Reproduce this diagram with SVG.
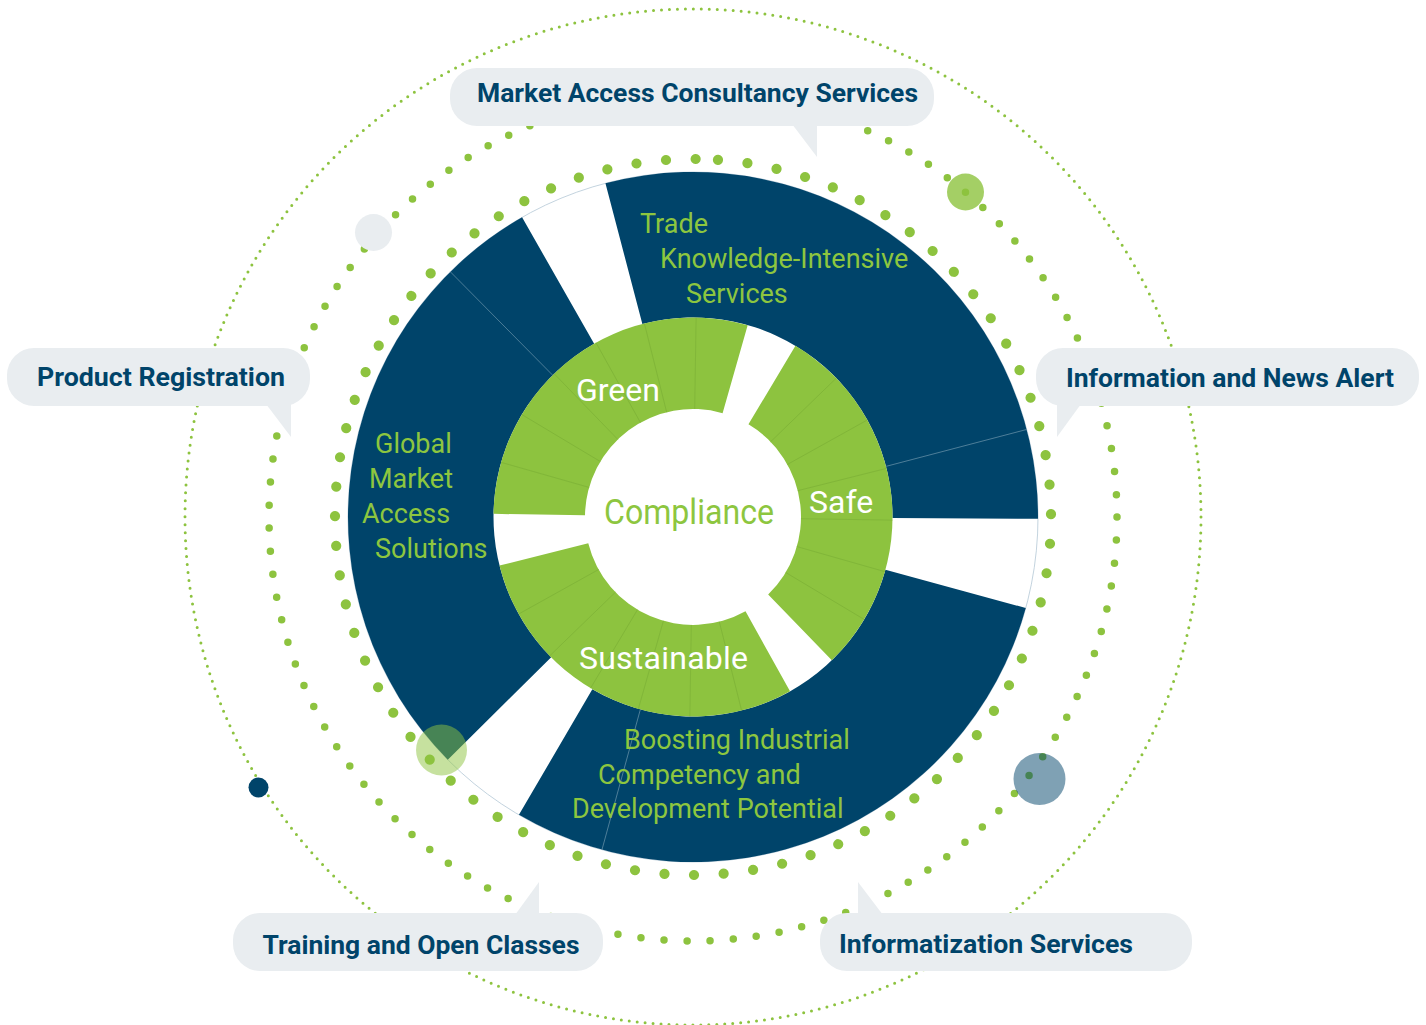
<svg xmlns="http://www.w3.org/2000/svg" xmlns:xlink="http://www.w3.org/1999/xlink" width="1426" height="1025" viewBox="0 0 1426 1025">
<defs>
<style>
.ring-fine{fill:none;stroke:#8dc33f;stroke-width:3;stroke-linecap:round;stroke-dasharray:0 7.98}
.ring-mid{fill:none;stroke:#8dc33f;stroke-width:7.5;stroke-linecap:round;stroke-dasharray:0 23.166}
.ring-big{fill:none;stroke:#8dc33f;stroke-width:10.2;stroke-linecap:round;stroke-dasharray:0 29.68}
.dark{fill:#00446a}
.green{fill:#8dc33f}
.dline{stroke:#6f97ad;stroke-width:0.8;opacity:0.8}
.gline{stroke:#7aae35;stroke-width:0.8;opacity:0.7}
.lbl{font-family:Roboto,"Liberation Sans",sans-serif;font-size:27px;fill:#8dc63f}
.wlbl{font-family:Roboto,"Liberation Sans",sans-serif;font-size:32px;fill:#ffffff}
.bubble{fill:#e9edf0}
.btxt{font-family:Roboto,"Liberation Sans",sans-serif;font-weight:bold;font-size:26px;fill:#00446a}
</style>
<line id="gl" x1="801" y1="517" x2="892.5" y2="517"/>
<line id="dl" x1="892.5" y1="517" x2="1038" y2="517"/>
</defs>
<rect width="1426" height="1025" fill="#ffffff"/>

<g id="rings">
<circle class="ring-fine" cx="693" cy="517" r="508"/>
<circle class="ring-mid" cx="693" cy="517" r="424"/>
<circle class="ring-big" cx="693" cy="517" r="358" transform="rotate(-86 693 517)"/>
<circle cx="693" cy="517" r="345" fill="none" stroke="#b4c8d5" stroke-width="0.8"/>
</g>

<g id="seg-trade">
<path class="dark" d="M605.44 183.28 A345 345 0 0 1 1037.99 518.81 L892.5 518.04 A199.5 199.5 0 0 0 642.37 324.02 Z"/>
<use xlink:href="#dl" class="dline" transform="rotate(-14.7 693 517)"/>
<text class="lbl" x="640" y="233">Trade</text>
<text class="lbl" x="660" y="268">Knowledge-Intensive</text>
<text class="lbl" x="686" y="302.5">Services</text>
</g>
<g id="seg-boosting">
<path class="dark" d="M1025.77 608.04 A345 345 0 0 1 518.94 814.87 L592.35 689.25 A199.5 199.5 0 0 0 885.43 569.64 Z"/>
<use xlink:href="#dl" class="dline" transform="rotate(105.3 693 517)"/>
</g>
<g id="seg-global">
<path class="dark" d="M447.77 759.67 A345 345 0 0 1 522.07 217.32 L594.16 343.71 A199.5 199.5 0 0 0 551.20 657.33 Z"/>
<use xlink:href="#dl" class="dline" transform="rotate(225.3 693 517)"/>
<text class="lbl" x="375" y="453">Global</text>
<text class="lbl" x="369" y="488">Market</text>
<text class="lbl" x="362" y="522.5">Access</text>
<text class="lbl" x="375" y="557.5">Solutions</text>
</g>

<g id="seg-green">
<path class="green" d="M493.52 513.87 A199.5 199.5 0 0 1 747.66 325.13 L722.59 413.13 A108 108 0 0 0 585.01 515.30 Z"/>
<use xlink:href="#gl" class="gline" transform="rotate(195.9 693 517)"/>
<use xlink:href="#gl" class="gline" transform="rotate(210.9 693 517)"/>
<use xlink:href="#gl" class="gline" transform="rotate(225.9 693 517)"/>
<use xlink:href="#gl" class="gline" transform="rotate(240.9 693 517)"/>
<use xlink:href="#gl" class="gline" transform="rotate(255.9 693 517)"/>
<use xlink:href="#gl" class="gline" transform="rotate(270.9 693 517)"/>
<text class="wlbl" x="576" y="401">Green</text>
</g>
<g id="seg-safe">
<path class="green" d="M795.45 345.81 A199.5 199.5 0 0 1 831.83 660.27 L768.16 594.56 A108 108 0 0 0 748.46 424.32 Z"/>
<use xlink:href="#gl" class="gline" transform="rotate(-44.1 693 517)"/>
<use xlink:href="#gl" class="gline" transform="rotate(-29.1 693 517)"/>
<use xlink:href="#gl" class="gline" transform="rotate(-14.1 693 517)"/>
<use xlink:href="#gl" class="gline" transform="rotate(0.9 693 517)"/>
<use xlink:href="#gl" class="gline" transform="rotate(15.9 693 517)"/>
<use xlink:href="#gl" class="gline" transform="rotate(30.9 693 517)"/>
<text class="wlbl" x="809" y="513">Safe</text>
</g>
<g id="seg-sustainable">
<path class="green" d="M790.02 691.32 A199.5 199.5 0 0 1 499.51 565.60 L588.25 543.31 A108 108 0 0 0 745.52 611.37 Z"/>
<use xlink:href="#gl" class="gline" transform="rotate(75.9 693 517)"/>
<use xlink:href="#gl" class="gline" transform="rotate(90.9 693 517)"/>
<use xlink:href="#gl" class="gline" transform="rotate(105.9 693 517)"/>
<use xlink:href="#gl" class="gline" transform="rotate(120.9 693 517)"/>
<use xlink:href="#gl" class="gline" transform="rotate(135.9 693 517)"/>
<use xlink:href="#gl" class="gline" transform="rotate(150.9 693 517)"/>
<text class="wlbl" x="579" y="669" textLength="169">Sustainable</text>
</g>
<g id="boosting-label">
<text class="lbl" x="624" y="749">Boosting Industrial</text>
<text class="lbl" x="598" y="783.5">Competency and</text>
<text class="lbl" x="572" y="817.5">Development Potential</text>
</g>

<g id="center">
<text x="604" y="524" font-family="Roboto,'Liberation Sans',sans-serif" font-size="35" fill="#8dc63f" textLength="170" lengthAdjust="spacingAndGlyphs">Compliance</text>
</g>

<g id="decor">
<circle cx="373.5" cy="232.5" r="18.5" fill="#e9edf0"/>
<circle cx="965.5" cy="192" r="18.5" fill="#8dc33f" opacity="0.8"/>
<circle cx="441.5" cy="750" r="25.5" fill="#8dc33f" opacity="0.5"/>
<circle cx="1039.5" cy="779" r="26" fill="#00446a" opacity="0.5"/>
<circle cx="258.5" cy="787.5" r="10" fill="#00446a"/>
</g>

<g id="box-macs">
<rect class="bubble" x="450" y="68" width="484" height="58" rx="27"/>
<polygon class="bubble" points="792,124 817,157 817,124"/>
<text class="btxt" x="477" y="102" textLength="441" lengthAdjust="spacingAndGlyphs">Market Access Consultancy Services</text>
</g>
<g id="box-news">
<rect class="bubble" x="1036" y="348" width="383" height="58" rx="27"/>
<polygon class="bubble" points="1057,404 1057,437 1081,404"/>
<text class="btxt" x="1066" y="387" textLength="328" lengthAdjust="spacingAndGlyphs">Information and News Alert</text>
</g>
<g id="box-product">
<rect class="bubble" x="7" y="348" width="303" height="58" rx="27"/>
<polygon class="bubble" points="266,404 291,437 291,404"/>
<text class="btxt" x="37" y="386" textLength="248" lengthAdjust="spacingAndGlyphs">Product Registration</text>
</g>
<g id="box-training">
<rect class="bubble" x="233" y="913" width="370" height="58" rx="27"/>
<polygon class="bubble" points="515,915 539,882 539,915"/>
<text class="btxt" x="262.5" y="953.5" textLength="317" lengthAdjust="spacingAndGlyphs">Training and Open Classes</text>
</g>
<g id="box-informatization">
<rect class="bubble" x="820" y="913" width="372" height="58" rx="27"/>
<polygon class="bubble" points="858,915 858,882 883,915"/>
<text class="btxt" x="839" y="952.5" textLength="294" lengthAdjust="spacingAndGlyphs">Informatization Services</text>
</g>
</svg>
